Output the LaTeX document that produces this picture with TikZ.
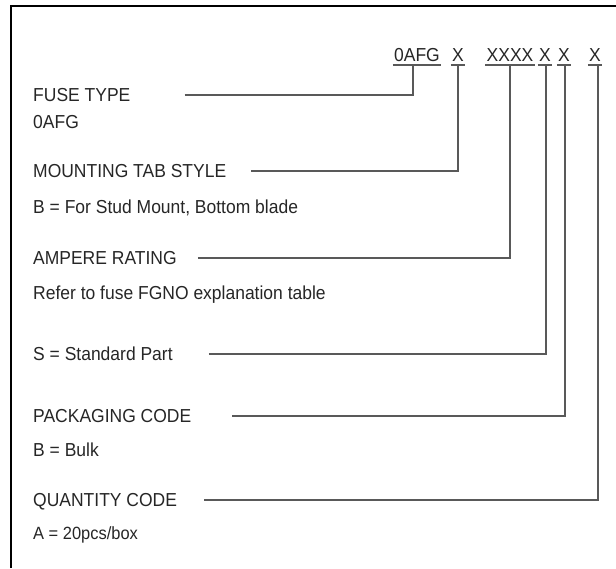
\documentclass[tikz,border=0pt]{standalone}
\usepackage{fontspec}
\setmainfont{Liberation Sans}[FakeStretch=0.93]
\usepackage{tikz}
\usetikzlibrary{positioning, calc}

\begin{document}
\begin{tikzpicture}[
        x=1pt, y=-1pt,
        lbl/.style={anchor=west, inner sep=0pt, text height=13.5pt, text depth=0pt, font=\fontsize{18.8}{22}\selectfont, text=black!85},
        note/.style={lbl},
        small/.style={lbl, font=\fontsize{17.7}{20}\selectfont, text height=12.7pt},
        code/.style={anchor=base, inner xsep=1pt, inner ysep=0pt, text depth=3.8pt, font=\fontsize{18.8}{22}\selectfont, text=black!85},
        lead/.style={draw=black!65, line width=1.4pt},
        frame/.style={draw=black, line width=2.2pt}
    ]
        \useasboundingbox (0,0) rectangle (616,568);
        \draw[frame] (11,568) -- (11,6) -- (616,6);

        % part number
        \node[code] (c0afg) at (417,61) {0AFG};
        \node[code] (cmount) at (458,61) {X};
        \node[code] (camp) at (510,61) {XXXX};
        \node[code] (cstd) at (545,61) {X};
        \node[code] (cpack) at (564,61) {X};
        \node[code] (cqty) at (595,61) {X};
        \foreach \c in {c0afg, cmount, camp, cstd, cpack, cqty}
            \draw[lead, line width=1.2pt] (\c.south west) -- (\c.south east);

        % fields
        \node[lbl] (fuse) at (33,95) {FUSE TYPE};
        \node[note] (fusev) at (33,122) {0AFG};
        \node[lbl] (mount) at (33,171) {MOUNTING TAB STYLE};
        \node[note] (mountv) at (33,207) {B = For Stud Mount, Bottom blade};
        \node[lbl] (amp) at (33,258) {AMPERE RATING};
        \node[note] (ampv) at (33,293) {Refer to fuse FGNO explanation table};
        \node[lbl] (std) at (33,354) {S = Standard Part};
        \node[lbl] (pack) at (33,416) {PACKAGING CODE};
        \node[note] (packv) at (33,450) {B = Bulk};
        \node[lbl] (qty) at (33,500) {QUANTITY CODE};
        \node[small] (qtyv) at (33,533) {A = 20pcs/box};

        \draw[lead] ([xshift=54pt]fuse.east) -| ([xshift=-4pt]c0afg.south);
        \draw[lead] ([xshift=25pt]mount.east) -| (cmount.south);
        \draw[lead] ([xshift=21pt]amp.east) -| (camp.south);
        \draw[lead] ([xshift=36pt]std.east) -| ([xshift=1pt]cstd.south);
        \draw[lead] ([xshift=41pt]pack.east) -| ([xshift=1pt]cpack.south);
        \draw[lead] ([xshift=27pt]qty.east) -| ([xshift=3pt]cqty.south);
    \end{tikzpicture}
\end{document}
